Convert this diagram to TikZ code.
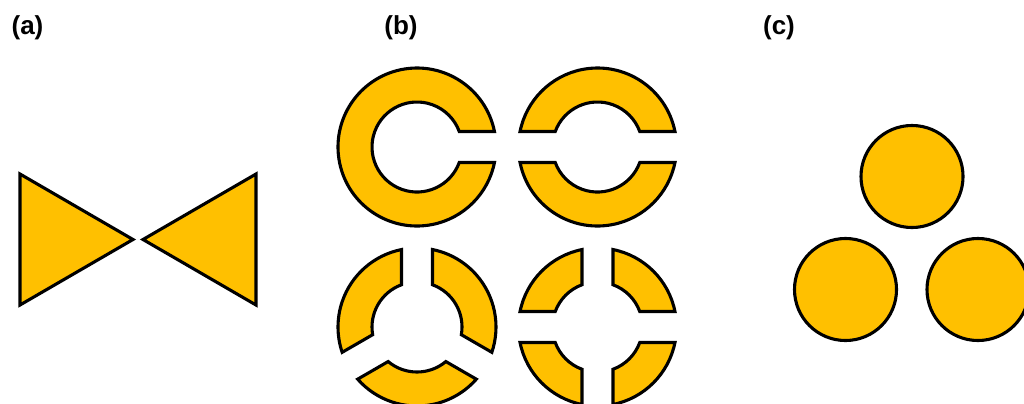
\documentclass[tikz,border=0pt]{standalone}
\usepackage{fontspec}
\setmainfont{Liberation Sans}
\usetikzlibrary{calc}
\definecolor{amber}{HTML}{FFC000}

\newcommand{\ringR}{79}
\newcommand{\ringr}{45}
\newcommand{\slitw}{15.5}
% one piece of a slit ring between the slits at angles #2 and #3
\newcommand{\ringpiece}[3]{%
  \pgfmathsetmacro{\dout}{asin(\slitw/\ringR)}%
  \pgfmathsetmacro{\din}{asin(\slitw/\ringr)}%
  \draw[piece] ($(#1)+(#2+\dout:\ringR)$) arc[start angle=#2+\dout, end angle=#3-\dout, radius=\ringR]
    -- ($(#1)+(#3-\din:\ringr)$) arc[start angle=#3-\din, end angle=#2+\din, radius=\ringr] -- cycle;}

\begin{document}
\begin{tikzpicture}[
    x=0.025cm, y=0.025cm,
    piece/.style={draw=black, fill=amber, line width=2.2pt},
    ball/.style={circle, draw=black, fill=amber, line width=2.2pt, minimum size=2.55cm, inner sep=0pt},
    lbl/.style={font=\bfseries\fontsize{18.5}{22}\selectfont, inner sep=0pt}
]
\useasboundingbox (0,0) rectangle (1024,-403);

% Labels
\node[lbl] (laba) at (27.5,-28) {(a)};
\node[lbl] (labb) at (401,-28) {(b)};
\node[lbl] (labc) at (779,-28) {(c)};

% (a) triangles
\draw[piece] (20,-174) -- (133,-239.5) -- (20,-305) -- cycle;
\draw[piece] (256,-174) -- (143,-239.5) -- (256,-305) -- cycle;

% (b) rings
\coordinate (r1) at (417,-147);
\coordinate (r2) at (597.5,-147);
\coordinate (r3) at (417,-327);
\coordinate (r4) at (597.5,-327);

\ringpiece{r1}{0}{360}
\ringpiece{r2}{0}{180}
\ringpiece{r2}{180}{360}
\ringpiece{r3}{90}{210}
\ringpiece{r3}{210}{330}
\ringpiece{r3}{330}{450}
\foreach \a in {0,90,180,270}{
  \ringpiece{r4}{\a}{\a+90}
}

% (c) circles
\node[ball] (ctop)   at (912,-176.5) {};
\node[ball] (cleft)  at (845.5,-289.5) {};
\node[ball] (cright) at (978,-289.5) {};

\end{tikzpicture}
\end{document}
